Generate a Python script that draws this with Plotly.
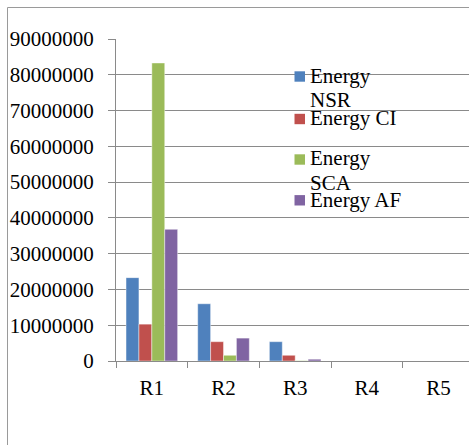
import plotly.graph_objects as go

# Categories and series values (energy per region)
categories = ["R1", "R2", "R3", "R4", "R5"]
energy_nsr = [23300000, 16000000, 5400000, 0, 0]
energy_ci = [10300000, 5400000, 1600000, 0, 0]
energy_sca = [83300000, 1600000, 100000, 0, 0]
energy_af = [36800000, 6400000, 500000, 0, 0]
y_ticks = [0, 10000000, 20000000, 30000000, 40000000, 50000000,
           60000000, 70000000, 80000000, 90000000]

series_names = ["Energy NSR", "Energy CI", "Energy SCA", "Energy AF"]
series_values = [energy_nsr, energy_ci, energy_sca, energy_af]
colors = ["#4F81BD", "#C0504D", "#9BBB59", "#8064A2"]
# legend labels as they wrap inside the legend box
legend_lines = [["Energy", "NSR"], ["Energy CI"], ["Energy", "SCA"], ["Energy AF"]]

W, H = 469, 445
ML, MT, MB, MR = 116, 39, 84, 0
PW, PH = W - ML - MR, H - MT - MB
FONT = "Liberation Serif"
GRID = "#8a8a8a"


def px_x(x):
    return (x - ML) / PW


def px_y(y):
    return (H - MB - y) / PH


fig = go.Figure()
for name, vals, col in zip(series_names, series_values, colors):
    fig.add_trace(go.Bar(
        x=categories, y=vals, name=name,
        marker=dict(color=col, line=dict(color="rgba(255,255,255,0.55)", width=0.8)),
    ))

shapes = [
    # outer chart border (left and top edges)
    dict(type="line", xref="paper", yref="paper", x0=px_x(7.5), x1=px_x(7.5),
         y0=px_y(446), y1=px_y(7.5), line=dict(color="#9a9a9a", width=1)),
    dict(type="line", xref="paper", yref="paper", x0=px_x(7.5), x1=px_x(470),
         y0=px_y(7.5), y1=px_y(7.5), line=dict(color="#9a9a9a", width=1)),
]
annotations = []

# legend: colored squares with wrapped labels
marker_y = [76.5, 119, 159.5, 200.3]
baselines = [[82.7, 107.3], [125], [165, 190], [206.7]]
for col, my, lines, bls in zip(colors, marker_y, legend_lines, baselines):
    shapes.append(dict(type="rect", xref="paper", yref="paper",
                       x0=px_x(294.5), x1=px_x(305), y0=px_y(my - 5.2), y1=px_y(my + 5.2),
                       fillcolor=col, line=dict(width=0)))
    for txt, bl in zip(lines, bls):
        annotations.append(dict(text=txt, xref="paper", yref="paper",
                                x=px_x(308), y=px_y(bl - 7), xanchor="left", yanchor="middle",
                                showarrow=False, font=dict(family=FONT, size=21, color="black")))

fig.update_layout(
    width=W, height=H,
    margin=dict(l=ML, r=MR, t=MT, b=MB, pad=0),
    paper_bgcolor="white", plot_bgcolor="white",
    barmode="group", bargap=0.28, bargroupgap=0,
    showlegend=False,
    font=dict(family=FONT, size=21, color="black"),
    shapes=shapes, annotations=annotations,
)
fig.update_xaxes(
    range=[-0.5, 4.425], showgrid=False, showline=True, linecolor=GRID, linewidth=1,
    ticks="outside", tickson="boundaries", ticklen=6, tickcolor=GRID,
    ticklabelstandoff=8, tickfont=dict(family=FONT, size=21, color="black"),
)
fig.update_yaxes(
    range=[0, 90000000], tickvals=y_ticks, tickformat="d",
    showgrid=True, gridcolor=GRID, gridwidth=1, zeroline=False,
    showline=True, linecolor=GRID, linewidth=1,
    ticks="outside", ticklen=7, tickcolor=GRID, ticklabelstandoff=10,
    tickfont=dict(family=FONT, size=21, color="black"),
)

fig.write_html("out.html")
